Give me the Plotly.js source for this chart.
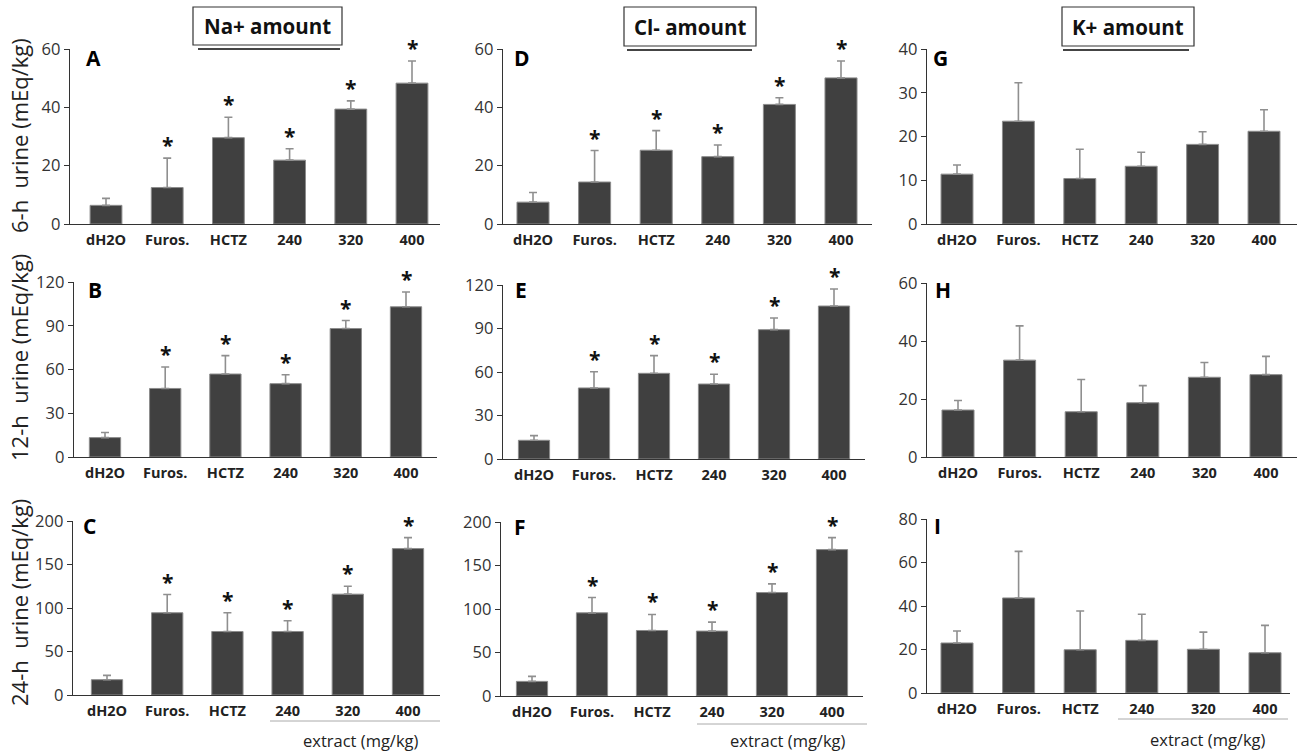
<!DOCTYPE html>
<html>
<head>
<meta charset="utf-8">
<script src="https://cdn.plot.ly/plotly-3.0.1.min.js"></script>
<style>html,body{margin:0;padding:0;background:#fff;}#chart{width:1297px;height:754px;}</style>
</head>
<body>
<div id="chart"></div>
<script>
// ---- data ----
const categories = ['dH2O', 'Furos.', 'HCTZ', '240', '320', '400'];
const ionTitles = ['Na+ amount', 'Cl- amount', 'K+ amount'];
const rowTitles = ['6-h  urine (mEq/kg)', '12-h  urine (mEq/kg)', '24-h  urine (mEq/kg)'];
const panelLetters = ['A', 'D', 'G', 'B', 'E', 'H', 'C', 'F', 'I'];
const extractLabel = 'extract (mg/kg)';

const na6 = [6.4, 12.5, 29.6, 21.9, 39.4, 48.3];
const na6Err = [2.4, 10.1, 7.0, 3.9, 2.8, 7.6];
const cl6 = [7.5, 14.4, 25.3, 23.1, 41.0, 50.1];
const cl6Err = [3.3, 10.8, 6.7, 4.0, 2.3, 5.8];
const k6 = [11.4, 23.5, 10.4, 13.2, 18.2, 21.2];
const k6Err = [2.1, 8.8, 6.7, 3.2, 2.9, 4.9];

const na12 = [13.3, 47.0, 56.9, 50.3, 88.1, 103.0];
const na12Err = [3.5, 14.7, 12.6, 6.1, 5.5, 10.1];
const cl12 = [12.9, 49.0, 59.1, 51.7, 89.2, 105.5];
const cl12Err = [3.2, 11.2, 12.2, 6.7, 8.0, 11.7];
const k12 = [16.2, 33.4, 15.6, 18.7, 27.5, 28.4];
const k12Err = [3.3, 11.8, 11.1, 5.9, 5.1, 6.3];

const na24 = [17.6, 94.5, 73.0, 73.0, 115.9, 168.3];
const na24Err = [5.0, 21.0, 21.5, 12.3, 9.1, 12.6];
const cl24 = [16.8, 95.6, 75.3, 74.6, 118.9, 168.3];
const cl24Err = [5.8, 17.6, 18.4, 10.3, 10.0, 13.7];
const k24 = [23.0, 43.7, 19.9, 24.2, 20.1, 18.5];
const k24Err = [5.5, 21.4, 17.8, 12.0, 7.9, 12.6];

const sigNaCl = [false, true, true, true, true, true];
const sigK = [false, false, false, false, false, false];

const yMax = [60, 60, 40, 120, 120, 60, 200, 200, 80];
const yStep = [20, 20, 10, 30, 30, 20, 50, 50, 20];

// ---- layout geometry (pixels) ----
const W = 1297, H = 754;
// [axisLeft, axisRight, yTop, yZero, firstBarCenter, lastBarCenter]
const geom = [
  [70, 440, 49, 224, 106, 412],
  [503, 872, 49, 224, 533, 841],
  [927, 1297, 49, 224, 957, 1264],
  [74, 437, 282, 457, 105, 406],
  [503, 865, 285, 459, 534, 834],
  [927, 1297, 283, 457, 958, 1266],
  [73, 440, 521, 695, 107, 408],
  [501, 863, 522, 696, 532, 832],
  [927, 1290, 519, 693, 957, 1265]
];
const letterPos = [[84, 58], [512, 58], [931, 58], [86, 290], [513, 290], [933, 290], [81, 526], [512, 527], [932, 526]];

const values = [na6, cl6, k6, na12, cl12, k12, na24, cl24, k24];
const errs = [na6Err, cl6Err, k6Err, na12Err, cl12Err, k12Err, na24Err, cl24Err, k24Err];
const sigs = [sigNaCl, sigNaCl, sigK, sigNaCl, sigNaCl, sigK, sigNaCl, sigNaCl, sigK];

const FONT = 'Open Sans, Noto Sans, sans-serif';
const px = x => x / W;
const py = y => 1 - y / H;

const data = [];
const layout = {
  width: W, height: H,
  margin: {l: 0, r: 0, t: 0, b: 0},
  paper_bgcolor: '#fff', plot_bgcolor: 'rgba(0,0,0,0)',
  showlegend: false,
  font: {family: FONT, color: '#222'},
  annotations: [], shapes: []
};

for (let i = 0; i < 9; i++) {
  const g = geom[i];
  const s = (g[5] - g[4]) / 5;
  const xr = [(g[0] - g[4]) / s, (g[1] - g[4]) / s];
  const n = i + 1;
  const xa = 'x' + (n === 1 ? '' : n), ya = 'y' + (n === 1 ? '' : n);
  const xk = 'xaxis' + (n === 1 ? '' : n), yk = 'yaxis' + (n === 1 ? '' : n);
  data.push({
    type: 'bar', x: categories, y: values[i], xaxis: xa, yaxis: ya,
    width: 0.52,
    marker: {color: '#404040', line: {color: '#8c8c8c', width: 1}},
    error_y: {type: 'data', symmetric: false, array: errs[i], arrayminus: errs[i].map(() => 0),
      color: '#8f8f8f', thickness: 1.6, width: 4},
    hoverinfo: 'none'
  });
  layout[xk] = {
    domain: [px(g[0]), px(g[1])], anchor: ya, type: 'category',
    range: xr, showline: true, linecolor: '#333', linewidth: 1.3,
    ticks: '', showgrid: false, zeroline: false,
    tickfont: {family: FONT, size: 14.5, color: '#222', weight: 'bold'},
    ticklabelstandoff: 2, fixedrange: true
  };
  layout[yk] = {
    domain: [py(g[3]), py(g[2])], anchor: xa,
    range: [0, yMax[i]], dtick: yStep[i], tick0: 0,
    showline: true, linecolor: '#333', linewidth: 1.3,
    ticks: 'outside', ticklen: 5, tickcolor: '#333', tickwidth: 1,
    showgrid: false, zeroline: false,
    tickfont: {family: FONT, size: 16.5, color: '#333'}, fixedrange: true
  };
  // significance stars
  for (let j = 0; j < categories.length; j++) {
    if (sigs[i][j]) {
      layout.annotations.push({
        xref: xa, yref: ya, x: j, y: values[i][j] + errs[i][j],
        text: '*', showarrow: false, yanchor: 'bottom', yshift: -3,
        font: {family: FONT, size: 21, color: '#111', weight: 'bold'}
      });
    }
  }
  // panel letter
  layout.annotations.push({
    xref: 'paper', yref: 'paper', x: px(letterPos[i][0]), y: py(letterPos[i][1]),
    xanchor: 'left', yanchor: 'middle', text: panelLetters[i], showarrow: false,
    font: {family: FONT, size: 21, color: '#000', weight: 'bold'}
  });
}

// row titles
const rowCenters = [136, 358, 603];
for (let r = 0; r < 3; r++) {
  layout.annotations.push({
    xref: 'paper', yref: 'paper', x: px(19), y: py(rowCenters[r]),
    xanchor: 'center', yanchor: 'middle', textangle: -90, text: rowTitles[r], showarrow: false,
    font: {family: FONT, size: 22, color: '#222'}
  });
}

// ion title boxes with underline
const boxes = [[193, 342, 7, 45, 198, 340, 49], [624, 756, 7, 46, 627, 752, 50], [1062, 1194, 7, 46, 1063, 1189, 50]];
for (let c = 0; c < 3; c++) {
  const b = boxes[c];
  layout.shapes.push({type: 'rect', xref: 'paper', yref: 'paper',
    x0: px(b[0]), x1: px(b[1]), y0: py(b[3]), y1: py(b[2]),
    line: {color: '#333', width: 1.2}, fillcolor: 'rgba(0,0,0,0)'});
  layout.shapes.push({type: 'line', xref: 'paper', yref: 'paper',
    x0: px(b[4]), x1: px(b[5]), y0: py(b[6]), y1: py(b[6]),
    line: {color: '#444', width: 2}});
  layout.annotations.push({
    xref: 'paper', yref: 'paper', x: px((b[0] + b[1]) / 2), y: py((b[2] + b[3]) / 2),
    xanchor: 'center', yanchor: 'middle', text: ionTitles[c], showarrow: false,
    font: {family: FONT, size: 20.5, color: '#111', weight: 'bold'}
  });
}

// extract labels under bottom row
const extr = [[270, 440, 721, 361, 740], [697, 867, 724, 788, 740], [1118, 1288, 719, 1208, 739]];
for (let c = 0; c < 3; c++) {
  const e = extr[c];
  layout.shapes.push({type: 'line', xref: 'paper', yref: 'paper',
    x0: px(e[0]), x1: px(e[1]), y0: py(e[2]), y1: py(e[2]),
    line: {color: '#aaa', width: 1}});
  layout.annotations.push({
    xref: 'paper', yref: 'paper', x: px(e[3]), y: py(e[4]),
    xanchor: 'center', yanchor: 'middle', text: extractLabel, showarrow: false,
    font: {family: FONT, size: 16.5, color: '#222'}
  });
}

Plotly.newPlot('chart', data, layout, {displayModeBar: false, staticPlot: true});
</script>
</body>
</html>
